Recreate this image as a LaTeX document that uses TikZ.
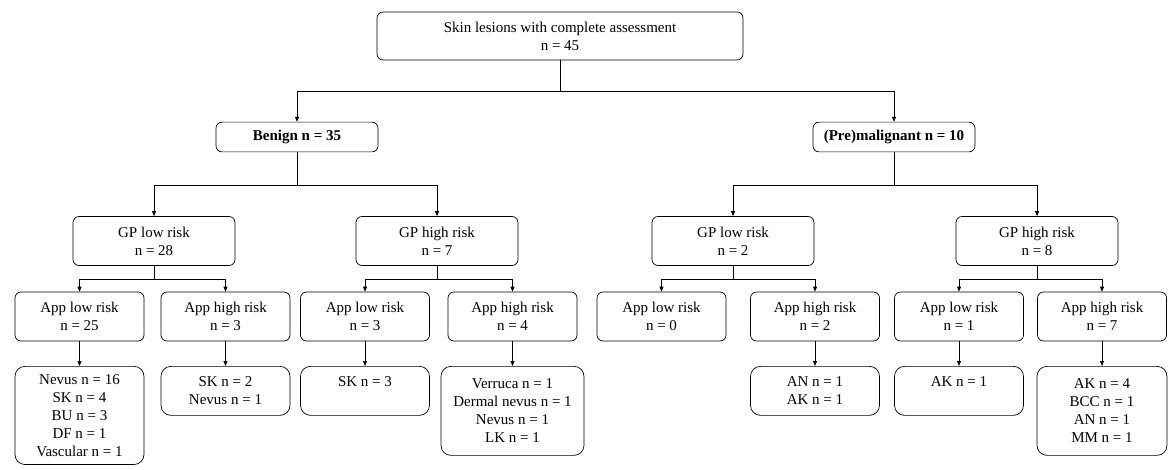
\documentclass[tikz,border=0pt]{standalone}
\usepackage{fontspec}
\setmainfont{Liberation Serif}
\usepackage{tikz}
\usetikzlibrary{positioning,arrows.meta}
\tikzset{>={Triangle[length=5pt,width=4pt]}}
\tikzset{
  box/.style={draw,line width=0.7pt,rounded corners=6pt,align=center,
    inner xsep=4pt,inner ysep=8pt,font=\fontsize{15}{18}\selectfont},
  gpbox/.style={box,minimum width=162pt,minimum height=49pt},
  appbox/.style={box,minimum width=129pt,minimum height=49pt},
  leafbox/.style={box,rounded corners=10pt,anchor=north,minimum width=129pt,minimum height=49pt},
  link/.style={line width=0.7pt}
}

\begin{document}
\begin{tikzpicture}[x=1pt,y=-1pt]
% Page frame
\useasboundingbox (0,0) rectangle (1173,469);

% Top of the tree
\node[box,minimum width=366pt,minimum height=48pt] (root) at (560,36)
  {Skin lesions with complete assessment\\n = 45};
\node[box,minimum width=162pt,minimum height=29pt] (benign) at (297,137)
  {\bfseries Benign n = 35};
\node[box,minimum width=162pt,minimum height=29pt] (premal) at (894,137)
  {\bfseries (Pre)malignant n = 10};

% GP assessment
\node[gpbox] (gplo1) at (154,241) {GP low risk\\n = 28};
\node[gpbox] (gphi1) at (437,241) {GP high risk\\n = 7};
\node[gpbox] (gplo2) at (733,241) {GP low risk\\n = 2};
\node[gpbox] (gphi2) at (1037,241) {GP high risk\\n = 8};

% App assessment
\node[appbox] (applo1) at (79.5,316.5) {App low risk\\n = 25};
\node[appbox] (apphi1) at (225.5,316.5) {App high risk\\n = 3};
\node[appbox] (applo2) at (365,316.5) {App low risk\\n = 3};
\node[appbox] (apphi2) at (512.5,316.5) {App high risk\\n = 4};
\node[appbox] (applo3) at (661.5,316.5) {App low risk\\n = 0};
\node[appbox] (apphi3) at (815,316.5) {App high risk\\n = 2};
\node[appbox] (applo4) at (959,316.5) {App low risk\\n = 1};
\node[appbox] (apphi4) at (1102,316.5) {App high risk\\n = 7};

% Diagnoses
\node[leafbox] (dx1) at (79.5,366)
  {Nevus n = 16\\SK n = 4\\BU n = 3\\DF n = 1\\Vascular n = 1};
\node[leafbox] (dx2) at (225.5,366) {SK n = 2\\Nevus n = 1};
\node[leafbox] (dx3) at (365,366) {SK n = 3\\~};
\node[leafbox,minimum width=143pt,minimum height=89pt] (dx4) at (512.5,366)
  {Verruca n = 1\\Dermal nevus n = 1\\Nevus n = 1\\LK n = 1};
\node[leafbox] (dx6) at (815,366) {AN n = 1\\AK n = 1};
\node[leafbox] (dx7) at (959,366) {AK n = 1\\~};
\node[leafbox,minimum width=130pt,minimum height=89pt] (dx8) at (1102,366)
  {AK n = 4\\BCC n = 1\\AN n = 1\\MM n = 1};

% Splits
\draw[link] (root.south) -- ++(0,31) coordinate (s0);
\draw[link,->] (s0) -| (benign);
\draw[link,->] (s0) -| (premal);

\draw[link] (benign.south) -- ++(0,33) coordinate (s1);
\draw[link,->] (s1) -| (gplo1);
\draw[link,->] (s1) -| (gphi1);
\draw[link] (premal.south) -- ++(0,33) coordinate (s2);
\draw[link,->] (s2) -| (gplo2);
\draw[link,->] (s2) -| (gphi2);

\foreach \gp/\lo/\hi in {gplo1/applo1/apphi1,gphi1/applo2/apphi2,
                          gplo2/applo3/apphi3,gphi2/applo4/apphi4}{
  \draw[link] (\gp.south) -- ++(0,13) coordinate (s\gp);
  \draw[link,->] (s\gp) -| (\lo);
  \draw[link,->] (s\gp) -| (\hi);
}

% App to diagnoses
\foreach \app/\dx in {applo1/dx1,apphi1/dx2,applo2/dx3,apphi2/dx4,
                      apphi3/dx6,applo4/dx7,apphi4/dx8}
  \draw[link,->] (\app) -- (\dx);
\end{tikzpicture}
\end{document}
